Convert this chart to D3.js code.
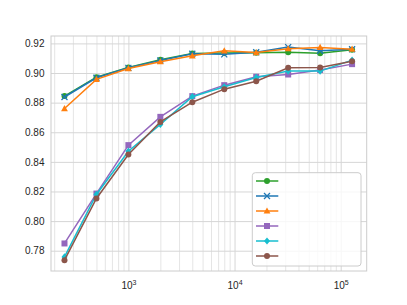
<!DOCTYPE html>
<html>
<head>
<meta charset="utf-8">
<script src="https://cdn.jsdelivr.net/npm/d3@7"></script>
<style>
html,body{margin:0;padding:0;background:#fff;}
svg{display:block;font-family:"Liberation Sans",Arial,sans-serif;}
</style>
</head>
<body>
<svg id="chart" width="407" height="305"></svg>
<script>
const xValues = [250, 500, 1000, 2000, 4000, 8000, 16000, 32000, 64000, 128000];
const seriesNames = ["", "", "", "", "", ""];
const green  = [0.8844, 0.8972, 0.9037, 0.9090, 0.9132, 0.9135, 0.9137, 0.9141, 0.9134, 0.9157];
const blue   = [0.8838, 0.8968, 0.9035, 0.9085, 0.9130, 0.9126, 0.9140, 0.9175, 0.9150, 0.9160];
const orange = [0.8760, 0.8957, 0.9030, 0.9076, 0.9116, 0.9150, 0.9138, 0.9164, 0.9173, 0.9161];
const purple = [0.7849, 0.8186, 0.8513, 0.8704, 0.8844, 0.8918, 0.8975, 0.8990, 0.9020, 0.9060];
const cyan   = [0.7758, 0.8180, 0.8472, 0.8653, 0.8840, 0.8907, 0.8970, 0.9013, 0.9013, 0.9087];
const brown  = [0.7736, 0.8153, 0.8450, 0.8670, 0.8803, 0.8891, 0.8945, 0.9035, 0.9038, 0.9080];
const yTicks = [0.78, 0.80, 0.82, 0.84, 0.86, 0.88, 0.90, 0.92];
const xTicks = [1e3, 1e4, 1e5];

const series = [
  {name: seriesNames[0], values: green,  color: "#2ca02c", marker: "circle"},
  {name: seriesNames[1], values: blue,   color: "#1f77b4", marker: "x"},
  {name: seriesNames[2], values: orange, color: "#ff7f0e", marker: "triangle"},
  {name: seriesNames[3], values: purple, color: "#9467bd", marker: "square"},
  {name: seriesNames[4], values: cyan,   color: "#17becf", marker: "diamond"},
  {name: seriesNames[5], values: brown,  color: "#8c564b", marker: "circle"}
];

const L = 51, R = 366.7, T = 36, B = 271;
const svg = d3.select("#chart");
const x = d3.scaleLog().domain([186.6, 175800]).range([L, R]);
const y = d3.scaleLinear().domain([0.7663, 0.925]).range([B, T]);

// minor x grid
const minor = [];
for (let k = 2; k <= 5; k++) for (let m = 2; m <= 9; m++) {
  const v = m * Math.pow(10, k);
  if (v > x.domain()[0] && v < x.domain()[1]) minor.push(v);
}
const gridColor = "#d6d6d6";
svg.append("g").attr("transform", `translate(0,${B})`)
  .call(d3.axisBottom(x).tickValues(minor).tickSize(-(B - T)).tickFormat(""))
  .call(g => g.select(".domain").remove())
  .call(g => g.selectAll("line").attr("stroke", "#e2e2e2").attr("stroke-width", 0.9));
svg.append("g").attr("transform", `translate(0,${B})`)
  .call(d3.axisBottom(x).tickValues(xTicks).tickSize(-(B - T)).tickFormat(""))
  .call(g => g.select(".domain").remove())
  .call(g => g.selectAll("line").attr("stroke", gridColor).attr("stroke-width", 1));
svg.append("g").attr("transform", `translate(${L},0)`)
  .call(d3.axisLeft(y).tickValues(yTicks).tickSize(-(R - L)).tickFormat(""))
  .call(g => g.select(".domain").remove())
  .call(g => g.selectAll("line").attr("stroke", gridColor).attr("stroke-width", 1));

// frame
svg.append("rect").attr("x", L).attr("y", T).attr("width", R - L).attr("height", B - T)
  .attr("fill", "none").attr("stroke", "#cccccc").attr("stroke-width", 1);

// tick labels
const yAx = svg.append("g").attr("transform", `translate(${L},0)`)
  .call(d3.axisLeft(y).tickValues(yTicks).tickSize(0).tickPadding(6.5).tickFormat(d3.format(".2f")));
yAx.select(".domain").remove();
yAx.selectAll("text").attr("font-size", 10).attr("fill", "#262626")
  .attr("font-family", "Liberation Sans, Arial, sans-serif");

const xAx = svg.append("g").attr("transform", `translate(0,${B})`)
  .call(d3.axisBottom(x).tickValues(xTicks).tickSize(0).tickPadding(11.2).tickFormat(""));
xAx.select(".domain").remove();
xAx.selectAll("text").each(function(d) {
  const t = d3.select(this);
  t.attr("font-size", 10).attr("fill", "#262626")
   .attr("font-family", "Liberation Sans, Arial, sans-serif");
  t.append("tspan").text("10");
  t.append("tspan").attr("dy", "-0.55em").attr("font-size", 7).text(Math.round(Math.log10(d)));
});

// markers
function drawMarker(g, type, cx, cy, color) {
  const s = 3;
  if (type === "circle") g.append("circle").attr("cx", cx).attr("cy", cy).attr("r", s).attr("fill", color);
  else if (type === "square") g.append("rect").attr("x", cx - s).attr("y", cy - s).attr("width", 2 * s).attr("height", 2 * s).attr("fill", color);
  else if (type === "triangle") g.append("path").attr("d", `M${cx},${cy - 3.6}L${cx + 3.4},${cy + 2.6}L${cx - 3.4},${cy + 2.6}Z`).attr("fill", color);
  else if (type === "diamond") g.append("path").attr("d", `M${cx},${cy - 3.6}L${cx + 3},${cy}L${cx},${cy + 3.6}L${cx - 3},${cy}Z`).attr("fill", color);
  else if (type === "x") g.append("path").attr("d", `M${cx - 3},${cy - 3}L${cx + 3},${cy + 3}M${cx - 3},${cy + 3}L${cx + 3},${cy - 3}`).attr("stroke", color).attr("stroke-width", 1.3).attr("fill", "none");
}

const line = d3.line().x((d, i) => x(xValues[i])).y(d => y(d));
series.forEach(s => {
  const g = svg.append("g");
  g.append("path").datum(s.values).attr("d", line).attr("fill", "none")
    .attr("stroke", s.color).attr("stroke-width", 1.5);
  s.values.forEach((v, i) => drawMarker(g, s.marker, x(xValues[i]), y(v), s.color));
});

// legend
const lg = svg.append("g");
lg.append("rect").attr("x", 252.3).attr("y", 172.7).attr("width", 108.7).attr("height", 93.3)
  .attr("rx", 3).attr("fill", "#fff").attr("fill-opacity", 0.8).attr("stroke", "#cccccc").attr("stroke-width", 1);
series.forEach((s, i) => {
  const yy = 181 + i * 15;
  lg.append("line").attr("x1", 256).attr("x2", 278.3).attr("y1", yy).attr("y2", yy)
    .attr("stroke", s.color).attr("stroke-width", 1.5);
  drawMarker(lg, s.marker, 267, yy, s.color);
  lg.append("text").attr("x", 287).attr("y", yy + 3.5).attr("font-size", 10).attr("fill", "#262626").text(s.name);
});
</script>
</body>
</html>
